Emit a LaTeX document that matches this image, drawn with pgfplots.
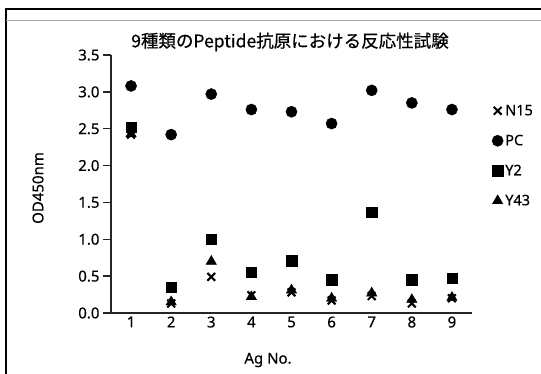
\documentclass[border=0pt]{standalone}
\usepackage{fontspec}
\setmainfont{Noto Sans}[FakeBold=0.5]
\newfontfamily\jp{Noto Sans CJK JP}[FakeBold=0.6]
\usepackage{pgfplots}
\pgfplotsset{compat=1.18}
\begin{document}
\begin{tikzpicture}[x=1pt,y=1pt]
\path[use as bounding box] (0,0) rectangle (541,374);
\draw[line width=2pt] (6,0) -- (6,365) -- (541,365);
\draw[gray!70, line width=0.9pt] (6,354) -- (541,354);
\begin{axis}[
  at={(111pt,61pt)}, anchor=south west, scale only axis,
  width=361pt, height=258pt,
  xmin=0.5, xmax=9.5, ymin=0, ymax=3.5,
  axis x line*=bottom, axis y line*=left,
  axis line style={line width=1.4pt, black!85},
  every tick/.style={line width=1.4pt, black!85},
  tick align=outside,
  major tick length=8pt, minor tick length=5pt,
  xtick=\empty,
  minor xtick={0.5,1.5,...,9.5},
  extra x ticks={1,2,3,4,5,6,7,8,9},
  extra x tick style={major tick length=0pt, tick style={draw=none}},
  ytick={0,0.5,1,1.5,2,2.5,3,3.5},
  yticklabel style={/pgf/number format/.cd, fixed, fixed zerofill, precision=1},
  /pgf/number format/assume math mode=true,
  tick label style={font=\fontsize{15}{17}\selectfont, black},
  legend style={draw=none, fill=none, at={(1.055,0.815)}, anchor=north west,
    font=\fontsize{14.5}{16}\selectfont, row sep=14pt, inner sep=0pt},
  legend cell align=left,
  legend image code/.code={\draw[mark repeat=2,mark phase=2,#1] plot coordinates {(0pt,0pt)(5pt,0pt)(10pt,0pt)};},
]
\addplot[only marks, mark=x, mark size=5.5pt, mark options={line width=2.1pt}] coordinates {
(1,2.42) (2,0.13) (3,0.49) (4,0.24) (5,0.28) (6,0.17) (7,0.23) (8,0.13) (9,0.20)};
\addplot[only marks, mark=*, mark size=5.6pt] coordinates {
(1,3.08) (2,2.42) (3,2.97) (4,2.76) (5,2.73) (6,2.57) (7,3.02) (8,2.85) (9,2.76)};
\addplot[only marks, mark=square*, mark size=5.2pt] coordinates {
(1,2.52) (2,0.35) (3,1.00) (4,0.55) (5,0.71) (6,0.45) (7,1.37) (8,0.45) (9,0.47)};
\addplot[only marks, mark=triangle*, mark size=6pt] coordinates {
(1,2.43) (2,0.15) (3,0.70) (4,0.22) (5,0.31) (6,0.20) (7,0.27) (8,0.18) (9,0.21)};
\legend{N15,PC,Y2,Y43}
\end{axis}
\node[font=\jp\fontsize{17.5}{20}\selectfont] at (290,332) {9種類のPeptide抗原における反応性試験};
\node[rotate=90, font=\fontsize{15}{17}\selectfont] at (38,186) {OD450nm};
\node[font=\fontsize{15}{17}\selectfont] at (268,14) {Ag No.};
\end{tikzpicture}
\end{document}
